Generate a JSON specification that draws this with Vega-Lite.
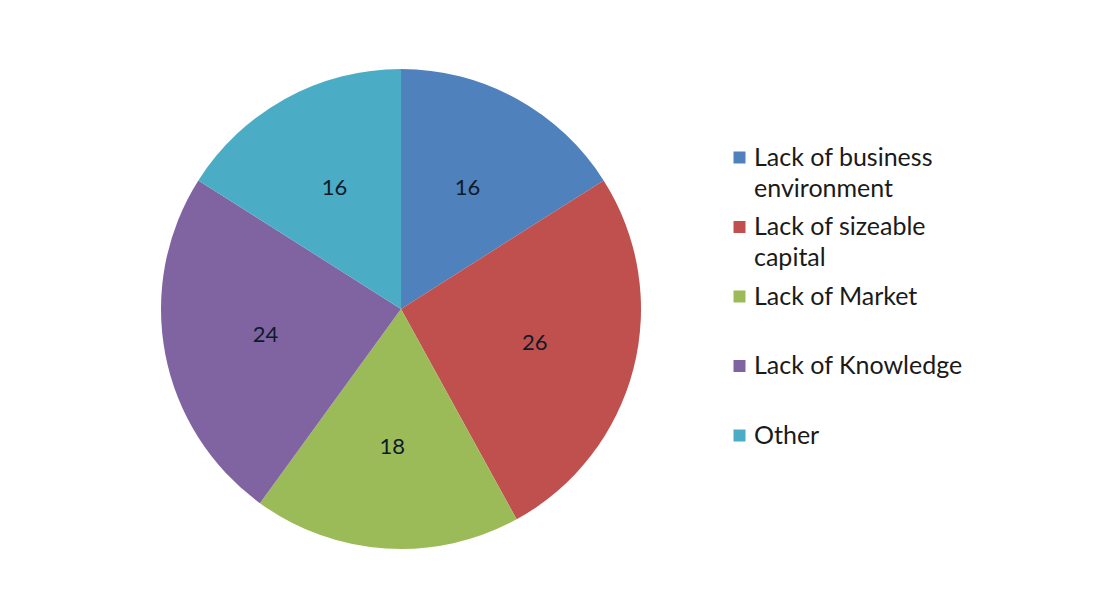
{
  "$schema": "https://vega.github.io/schema/vega-lite/v6.json",
  "width": 480,
  "height": 480,
  "padding": {"left": 161, "top": 69, "right": 470, "bottom": 58},
  "autosize": {"type": "none"},
  "background": "white",
  "config": {"view": {"stroke": null}, "font": "Lato"},
  "data": {
    "values": [
      {"category": "Lack of business environment", "value": 16, "order": 1},
      {"category": "Lack of sizeable capital", "value": 26, "order": 2},
      {"category": "Lack of Market", "value": 18, "order": 3},
      {"category": "Lack of Knowledge", "value": 24, "order": 4},
      {"category": "Other", "value": 16, "order": 5}
    ]
  },
  "encoding": {
    "theta": {"field": "value", "type": "quantitative", "stack": true},
    "order": {"field": "order", "type": "quantitative"}
  },
  "layer": [
    {
      "mark": {"type": "arc", "outerRadius": 240},
      "encoding": {
        "color": {
          "field": "category",
          "type": "nominal",
          "scale": {
            "domain": ["Lack of business environment", "Lack of sizeable capital", "Lack of Market", "Lack of Knowledge", "Other"],
            "range": ["#4F81BD", "#C0504D", "#9BBB59", "#8064A2", "#4BACC6"]
          },
          "legend": {
            "title": null,
            "orient": "none",
            "legendX": 566,
            "legendY": 76,
            "symbolType": "square",
            "symbolSize": 144,
            "symbolStrokeWidth": 0,
            "labelFont": "Lato",
            "labelFontSize": 25,
            "labelColor": "#1a1a1a",
            "labelOffset": 2,
            "labelLimit": 400,
            "rowPadding": 12.5,
            "encode": {"labels": {"update": {"lineHeight": {"value": 31}}}},
            "labelExpr": "datum.label == 'Lack of business environment' ? ['Lack of business', 'environment'] : datum.label == 'Lack of sizeable capital' ? ['Lack of sizeable', 'capital'] : [datum.label, ' ']"
          }
        }
      }
    },
    {
      "mark": {"type": "text", "radius": 138, "fontSize": 22, "color": "#0f1a2a", "font": "Lato"},
      "encoding": {
        "text": {"field": "value", "type": "quantitative"}
      }
    }
  ]
}
